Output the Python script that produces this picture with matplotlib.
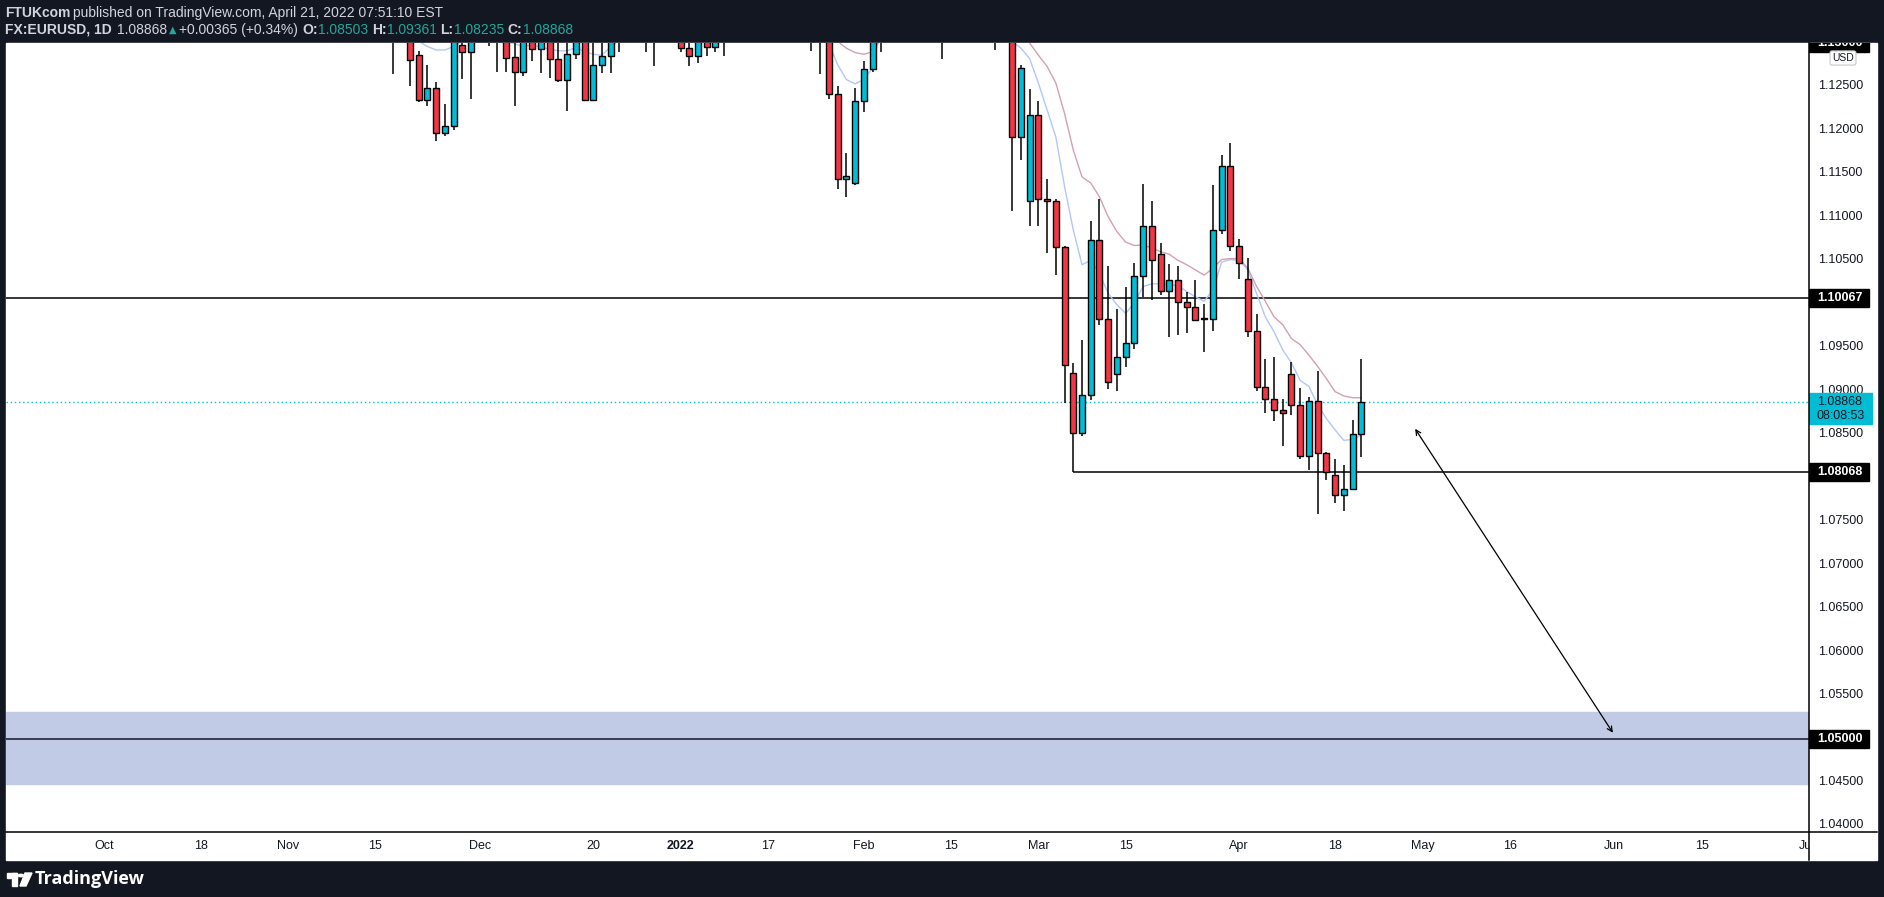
import numpy as np
import pandas as pd
import matplotlib
matplotlib.use("Agg")
import matplotlib.pyplot as plt
from matplotlib.patches import Rectangle, Circle, Polygon
from matplotlib import font_manager

# ---- data (EURUSD daily) ----
first_bar = "2021-11-17"
last_bar = "2022-04-21"

opens = [
    1.1335, 1.1320, 1.1320, 1.1286, 1.1234, 1.1248, 1.1197, 1.1205, 1.1298, 1.1290,
    1.1320, 1.1335, 1.1320, 1.1310, 1.1284, 1.1267, 1.1320, 1.1293, 1.1310, 1.1282,
    1.1258, 1.1287, 1.1330, 1.1235, 1.1275, 1.1285, 1.1330, 1.1320, 1.1325, 1.1310,
    1.1318, 1.1330, 1.1350, 1.1370, 1.1294, 1.1285, 1.1313, 1.1295, 1.1360,
    1.1325, 1.1365, 1.1440, 1.1455, 1.1415, 1.1405, 1.1325, 1.1345, 1.1315,
    1.1345, 1.1325, 1.1302, 1.1241, 1.1144, 1.1139, 1.1233, 1.1270,
    1.1302, 1.1440, 1.1450, 1.1440, 1.1415, 1.1420, 1.1425, 1.1350, 1.1305, 1.1355,
    1.1375, 1.1360, 1.1320, 1.1310, 1.1310,
    1.1308, 1.1192, 1.1118, 1.1217, 1.1120, 1.1118, 1.1065, 1.0920, 1.0852, 1.0895,
    1.1073, 1.0983, 1.0919, 1.0939, 1.0955, 1.1032, 1.1090, 1.1057, 1.1015, 1.1027,
    1.1002, 1.0996, 1.0984, 1.0983, 1.1085, 1.1158, 1.1066, 1.1029, 1.0969, 1.0904,
    1.0891, 1.0878, 1.0919, 1.0884, 1.0825, 1.0888, 1.0828, 1.0803, 1.0780, 1.0787, 1.08503,
]
highs = [
    1.1355, 1.1345, 1.1335, 1.1291, 1.1275, 1.1255, 1.1230, 1.1330, 1.1310, 1.1340,
    1.1380, 1.1360, 1.1355, 1.1330, 1.1300, 1.1330, 1.1340, 1.1320, 1.1330, 1.1300,
    1.1300, 1.1335, 1.1345, 1.1300, 1.1300, 1.1340, 1.1345, 1.1335, 1.1350, 1.1335,
    1.1345, 1.1365, 1.1385, 1.1380, 1.1300, 1.1335, 1.1330, 1.1365, 1.1375,
    1.1375, 1.1445, 1.1480, 1.1465, 1.1430, 1.1410, 1.1350, 1.1370, 1.1350,
    1.1350, 1.1370, 1.1325, 1.1250, 1.1173, 1.1248, 1.1279, 1.1320,
    1.1450, 1.1485, 1.1460, 1.1450, 1.1450, 1.1495, 1.1445, 1.1370, 1.1365, 1.1395,
    1.1395, 1.1390, 1.1395, 1.1360, 1.1345,
    1.1325, 1.1275, 1.1247, 1.1233, 1.1144, 1.1121, 1.1067, 1.0932, 1.0958, 1.1095,
    1.1121, 1.1044, 1.0994, 1.1019, 1.1047, 1.1138, 1.1118, 1.1070, 1.1046, 1.1044,
    1.1014, 1.1027, 1.1000, 1.1137, 1.1171, 1.1185, 1.1075, 1.1053, 1.0988, 1.0937,
    1.0939, 1.0891, 1.0933, 1.0903, 1.0893, 1.0923, 1.0830, 1.0822, 1.0815, 1.0866, 1.09361,
]
lows = [
    1.1264, 1.1305, 1.1251, 1.1232, 1.1227, 1.1187, 1.1193, 1.1200, 1.1259, 1.1236,
    1.1305, 1.1297, 1.1267, 1.1267, 1.1228, 1.1262, 1.1279, 1.1266, 1.1260, 1.1255,
    1.1222, 1.1282, 1.1235, 1.1234, 1.1265, 1.1265, 1.1290, 1.1305, 1.1305, 1.1290,
    1.1274, 1.1305, 1.1310, 1.1290, 1.1273, 1.1277, 1.1285, 1.1290, 1.1285,
    1.1315, 1.1360, 1.1430, 1.1400, 1.1395, 1.1315, 1.1310, 1.1315, 1.1305,
    1.1291, 1.1264, 1.1236, 1.1132, 1.1123, 1.1137, 1.1221, 1.1267,
    1.1290, 1.1410, 1.1420, 1.1400, 1.1405, 1.1375, 1.1340, 1.1282, 1.1300, 1.1345,
    1.1335, 1.1310, 1.1305, 1.1292, 1.1305,
    1.1107, 1.1165, 1.1090, 1.1090, 1.1058, 1.1033, 1.0886, 1.0807, 1.0848, 1.0889,
    1.0976, 1.0902, 1.0900, 1.0927, 1.0948, 1.1008, 1.1004, 1.1010, 1.0962, 1.0964,
    1.0966, 1.0981, 1.0945, 1.0969, 1.1080, 1.1061, 1.1028, 1.0962, 1.0900, 1.0875,
    1.0865, 1.0837, 1.0872, 1.0822, 1.0809, 1.0758, 1.0797, 1.0771, 1.0762, 1.0786, 1.08235,
]
closes = [
    1.1320, 1.1335, 1.1280, 1.1234, 1.1248, 1.1197, 1.1205, 1.1315, 1.1290, 1.1320,
    1.1335, 1.1320, 1.1310, 1.1283, 1.1267, 1.1315, 1.1293, 1.1305, 1.1282, 1.1258,
    1.1287, 1.1325, 1.1235, 1.1275, 1.1285, 1.1328, 1.1320, 1.1325, 1.1310, 1.1318,
    1.1330, 1.1350, 1.1370, 1.1294, 1.1285, 1.1313, 1.1295, 1.1360, 1.1325,
    1.1365, 1.1440, 1.1455, 1.1415, 1.1405, 1.1325, 1.1345, 1.1315, 1.1345,
    1.1325, 1.1302, 1.1241, 1.1144, 1.1147, 1.1233, 1.1270, 1.1302,
    1.1440, 1.1450, 1.1440, 1.1415, 1.1420, 1.1425, 1.1350, 1.1305, 1.1355, 1.1375,
    1.1360, 1.1320, 1.1310, 1.1310, 1.1308,
    1.1192, 1.1271, 1.1217, 1.1120, 1.1118, 1.1065, 1.0930, 1.0852, 1.0895, 1.1073,
    1.0983, 1.0910, 1.0939, 1.0955, 1.1032, 1.1090, 1.1050, 1.1015, 1.1027, 1.1002,
    1.0996, 1.0981, 1.0983, 1.1085, 1.1158, 1.1067, 1.1047, 1.0969, 1.0904, 1.0891,
    1.0878, 1.0875, 1.0884, 1.0825, 1.0888, 1.0828, 1.0807, 1.0780, 1.0787, 1.0850, 1.08868,
]
ma_fast = [  # blue line
    1.1330, 1.1320, 1.1312, 1.1302, 1.1296, 1.1292, 1.1292, 1.1296, 1.1302, 1.1306,
    1.1310, 1.1312, 1.1306, 1.1302, 1.1299, 1.1296, 1.1298, 1.1295, 1.1293, 1.1291,
    1.1291, 1.1295, 1.1290, 1.1287, 1.1286, 1.1296, 1.1303, 1.1306, 1.1308, 1.1310,
    1.1312, 1.1318, 1.1325, 1.1315, 1.1308, 1.1306, 1.1307, 1.1318, 1.1322,
    1.1335, 1.1370, 1.1400, 1.1405, 1.1405, 1.1380, 1.1365, 1.1345, 1.1345,
    1.1340, 1.1325, 1.1300, 1.1275, 1.1258, 1.1253, 1.1258, 1.1271,
    1.1320, 1.1360, 1.1385, 1.1395, 1.1405, 1.1412, 1.1392, 1.1365, 1.1362, 1.1366,
    1.1364, 1.1350, 1.1337, 1.1328, 1.1321,
    1.1302, 1.1294, 1.1282, 1.1254, 1.1223, 1.1192, 1.1135, 1.1085, 1.1045, 1.1050,
    1.1035, 1.1012, 1.0999, 1.0989, 1.1001, 1.1020, 1.1023, 1.1023, 1.1022, 1.1021,
    1.1014, 1.1008, 1.1003, 1.1016, 1.1048, 1.1051, 1.1050, 1.1039, 1.1012, 1.0985,
    1.0968, 1.0947, 1.0932, 1.0912, 1.0905, 1.0884, 1.0868, 1.0855, 1.0843, 1.0844, 1.0849,
]
ma_slow = [  # pink line
    1.1360, 1.1358, 1.1355, 1.1350, 1.1345, 1.1340, 1.1335, 1.1333, 1.1332, 1.1332,
    1.1333, 1.1334, 1.1333, 1.1331, 1.1328, 1.1327, 1.1326, 1.1325, 1.1323, 1.1320,
    1.1318, 1.1318, 1.1315, 1.1313, 1.1312, 1.1314, 1.1316, 1.1317, 1.1317, 1.1318,
    1.1320, 1.1323, 1.1327, 1.1324, 1.1321, 1.1320, 1.1319, 1.1322, 1.1323,
    1.1326, 1.1338, 1.1352, 1.1358, 1.1362, 1.1356, 1.1353, 1.1346, 1.1346,
    1.1344, 1.1338, 1.1312, 1.1302, 1.1294, 1.1289, 1.1287, 1.1290,
    1.1305, 1.1318, 1.1328, 1.1333, 1.1338, 1.1343, 1.1343, 1.1339, 1.1340, 1.1343,
    1.1345, 1.1343, 1.1340, 1.1337, 1.1335,
    1.1325, 1.1318, 1.1300, 1.1286, 1.1273, 1.1254, 1.1219, 1.1177, 1.1146, 1.1139,
    1.1123, 1.1100, 1.1083, 1.1071, 1.1067, 1.1068, 1.1064, 1.1060, 1.1057, 1.1050,
    1.1045, 1.1039, 1.1033, 1.1041, 1.1051, 1.1052, 1.1052, 1.1041, 1.1020, 1.1003,
    1.0985, 1.0976, 1.0960, 1.0953, 1.0941, 1.0928, 1.0914, 1.0899, 1.0894, 1.0892, 1.0892,
]

resistance = 1.10067
support = 1.08068
support_from = "2022-03-07"
target = 1.05000
zone_low, zone_high = 1.04481, 1.05302
last_price = 1.08868
arrow_start = ("2022-04-29", 1.08589)
arrow_end = ("2022-06-01", 1.05040)

tick_dates = ["2021-10-01", "2021-10-18", "2021-11-01", "2021-11-15", "2021-12-01",
              "2021-12-20", "2022-01-03", "2022-01-17", "2022-02-01", "2022-02-15",
              "2022-03-01", "2022-03-15", "2022-04-01", "2022-04-18", "2022-05-02",
              "2022-05-16", "2022-06-01", "2022-06-15", "2022-07-01"]
tick_labels = ["Oct", "18", "Nov", "15", "Dec", "20", "2022", "17", "Feb", "15",
               "Mar", "15", "Apr", "18", "May", "16", "Jun", "15", "Jul"]
price_ticks = [1.040, 1.045, 1.055, 1.060, 1.065, 1.070, 1.075, 1.085, 1.090,
               1.095, 1.105, 1.110, 1.115, 1.120, 1.125]

# ---- style ----
BG = "#131722"
UP = "#00bcd4"
DOWN = "#f23645"
GREEN = "#26a69a"
W, H = 1884, 897

names = {f.name for f in font_manager.fontManager.ttflist}
NARROW = "Liberation Sans Narrow" if "Liberation Sans Narrow" in names else "Liberation Sans"
plt.rcParams["font.family"] = NARROW

# trading-day index (weekdays) used as x
days = pd.bdate_range("2021-10-01", "2022-07-15")
pos = {d: i for i, d in enumerate(days)}
def xi(s):
    return pos[pd.Timestamp(s)]

bar_x = np.arange(xi(first_bar), xi(last_bar) + 1)
o = np.array(opens); h = np.array(highs); l = np.array(lows); c = np.array(closes)

def rect(x0, y0, x1, y1):
    return [x0 / W, 1 - y1 / H, (x1 - x0) / W, (y1 - y0) / H]

fig = plt.figure(figsize=(W / 100, H / 100), dpi=100, facecolor=BG)
# white panel
fig.patches.append(Rectangle((6 / W, 1 - 860 / H), (1877 - 6) / W, (860 - 43) / H,
                             transform=fig.transFigure, color="white", zorder=-10))

xmin, xmax = -11.29, 195.3
ymin, ymax = 1.03925, 1.13000

ax = fig.add_axes(rect(6, 43, 1809, 832))
ax.set_xlim(xmin, xmax)
ax.set_ylim(ymin, ymax)
ax.axis("off")

# zone + levels
ax.axhspan(zone_low, zone_high, color="#c1cbe6", zorder=1)
ax.axhline(target, color=BG, lw=1.1, zorder=2)
ax.axhline(resistance, color="black", lw=1.1, zorder=2)
ax.hlines(support, xi(support_from), xmax, color="black", lw=1.1, zorder=2)
ax.axhline(last_price, color=UP, lw=1, ls=(0, (1, 2)), zorder=2)

# moving averages
ax.plot(bar_x, ma_fast, color="#b3c6fb", lw=1.0, zorder=3)
ax.plot(bar_x, ma_slow, color="#d4a0b0", lw=1.0, zorder=3)

# candles
up = c >= o
ax.vlines(bar_x, l, h, color="black", lw=1.1, zorder=4)
body_lo = np.minimum(o, c)
body_h = np.maximum(np.abs(c - o), 0.00012)
ax.bar(bar_x, body_h, bottom=body_lo, width=0.68,
       color=np.where(up, UP, DOWN), edgecolor="black", linewidth=1.0, zorder=5)

# projection arrow
ax.annotate("", xy=(xi(arrow_end[0]), arrow_end[1]),
            xytext=(xi(arrow_start[0]), arrow_start[1]),
            arrowprops=dict(arrowstyle="<->", lw=0.9, color="black", mutation_scale=9))

# time axis
tax = fig.add_axes(rect(6, 832, 1809, 860))
tax.set_xlim(xmin, xmax)
tax.set_ylim(0, 1)
tax.axis("off")
for d, lab in zip(tick_dates, tick_labels):
    tax.text(xi(d), 0.5, lab, ha="center", va="center", fontsize=9, color="#131722",
             fontweight="bold" if lab == "2022" else "normal", clip_on=True)

# price axis
pax = fig.add_axes(rect(1809, 43, 1877, 832))
pax.set_xlim(0, 1)
pax.set_ylim(ymin, ymax)
pax.axis("off")
px_per_price = 8694.0
for p in price_ticks:
    pax.text(0.46, p, f"{p:.5f}", ha="center", va="center", fontsize=9, color="#131722")

def tag(p, txt, face, fg="white", hpx=18):
    hh = hpx / px_per_price
    pax.add_patch(Rectangle((0.0, p - hh / 2), 0.88, hh, color=face, zorder=3))
    pax.text(0.45, p, txt, ha="center", va="center", fontsize=9, color=fg,
             fontweight="bold", zorder=4, clip_on=True)

tag(1.13000, "1.13000", "black")
tag(resistance, f"{resistance:.5f}", "black")
tag(support, f"{support:.5f}", "black")
tag(target, f"{target:.5f}", "black")
# last price with countdown
hh = 31 / px_per_price
pax.add_patch(Rectangle((0.0, last_price - hh + 9 / px_per_price), 0.92, hh, color=UP, zorder=3))
pax.text(0.45, last_price, f"{last_price:.5f}", ha="center", va="center",
         fontsize=9, color="#131722", zorder=4)
pax.text(0.46, last_price - 14 / px_per_price, "08:08:53", ha="center", va="center",
         fontsize=9, color="#131722", zorder=4)
# USD badge
pax.text(0.5, 1.13 - 15 / px_per_price, "USD", ha="center", va="center", fontsize=7.5,
         color="#131722", bbox=dict(boxstyle="round,pad=0.2", fc="white", ec="#c8c8c8", lw=0.8))

# frame lines
fig.add_artist(plt.Line2D([6 / W, 1877 / W], [1 - 832 / H] * 2, color="black", lw=1.1))
fig.add_artist(plt.Line2D([1809 / W] * 2, [1 - 43 / H, 1 - 860 / H], color="black", lw=1.1))

# header: pieces chained left to right using measured widths
hdr = "#d1d4dc"
renderer = fig.canvas.get_renderer()

def chain(y, pieces, x0=5):
    x = x0
    for t, col, wt, gap in pieces:
        fam = "DejaVu Sans" if t == "\u25B2" else NARROW
        txt = fig.text(x / W, 1 - y / H, t, color=col, fontweight=wt, va="center",
                       fontsize=7 if t == "\u25B2" else 10, family=fam)
        x += txt.get_window_extent(renderer).width + gap

chain(13, [("FTUKcom", hdr, "bold", 3),
           ("published on TradingView.com, April 21, 2022 07:51:10 EST", hdr, "normal", 0)])
chain(30, [("FX:EURUSD, 1D", hdr, "bold", 5), ("1.08868", hdr, "normal", 2),
           ("\u25B2", GREEN, "normal", 3), ("+0.00365 (+0.34%)", hdr, "normal", 4),
           ("O:", hdr, "bold", 0), ("1.08503", GREEN, "normal", 4),
           ("H:", hdr, "bold", 0), ("1.09361", GREEN, "normal", 4),
           ("L:", hdr, "bold", 0), ("1.08235", GREEN, "normal", 4),
           ("C:", hdr, "bold", 0), ("1.08868", GREEN, "normal", 0)])

# footer logo
fig.patches.append(Rectangle((7 / W, 1 - 878 / H), 10 / W, 5 / H, transform=fig.transFigure, color="white"))
fig.patches.append(Rectangle((12 / W, 1 - 886 / H), 5 / W, 13 / H, transform=fig.transFigure, color="white"))
fig.patches.append(Circle((21 / W, 1 - 875.5 / H), 2.6 / W, transform=fig.transFigure, color="white"))
fig.patches.append(Polygon([(25 / W, 1 - 873 / H), (32 / W, 1 - 873 / H), (26 / W, 1 - 886 / H),
                            (20 / W, 1 - 886 / H)], transform=fig.transFigure, color="white"))
fig.text(35 / W, 1 - 879 / H, "TradingView", color="white", fontsize=13, fontweight="bold",
         va="center", family="Open Sans")

fig.savefig("out.png", dpi=100, facecolor=BG)
